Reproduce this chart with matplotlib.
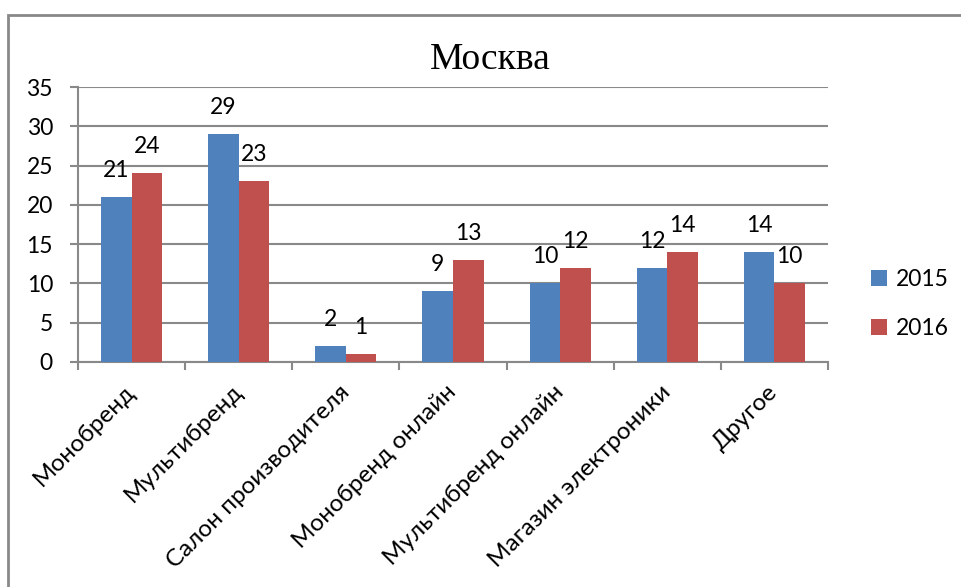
import matplotlib.pyplot as plt
import numpy as np
from matplotlib.patches import Rectangle

categories = ['Монобренд', 'Мультибренд', 'Салон производителя', 'Монобренд онлайн',
              'Мультибренд онлайн', 'Магазин электроники', 'Другое']
years = ['2015', '2016']
v2015 = [21, 29, 2, 9, 10, 12, 14]
v2016 = [24, 23, 1, 13, 12, 14, 10]
yticks = [0, 5, 10, 15, 20, 25, 30, 35]

blue = '#4F81BD'
red = '#C0504D'
grey = '#898989'

plt.rcParams['font.family'] = ['Lato', 'Open Sans', 'DejaVu Sans']

fig = plt.figure(figsize=(9.61, 5.87), dpi=100)
ax = fig.add_axes([78/961, 1-362/587, (828-78)/961, (362-87)/587])

# chart frame (runs off the right and bottom edges like the screenshot)
fig.patches.append(Rectangle((8/961, -0.1), 1.2, 1-15/587+0.1, transform=fig.transFigure,
                             fill=False, edgecolor=grey, linewidth=2))

x = np.arange(len(categories))
w = 0.286
b1 = ax.bar(x - w/2, v2015, w, color=blue, label=years[0], zorder=3)
b2 = ax.bar(x + w/2, v2016, w, color=red, label=years[1], zorder=3)

for bars, vals in ((b1, v2015), (b2, v2016)):
    for r, v in zip(bars, vals):
        ax.annotate(str(v), (r.get_x() + r.get_width()/2, v), xytext=(0, 11.5),
                    textcoords='offset points', ha='center', va='bottom', fontsize=16.5)

ax.set_xlim(-0.5, len(categories) - 0.5)
ax.set_ylim(0, 35)
ax.set_yticks(yticks)
ax.set_yticklabels([str(t) for t in yticks], fontsize=16.5)
ax.yaxis.grid(True, color=grey, linewidth=1.5, zorder=0)
ax.tick_params(axis='y', length=6, width=1.5, color=grey, pad=12)

# category ticks on boundaries, labels at centres
ax.set_xticks(np.arange(len(categories) + 1) - 0.5)
ax.set_xticklabels([])
ax.tick_params(axis='x', length=6, width=1.5, color=grey)
for i, c in enumerate(categories):
    ax.annotate(c, (i, 0), xytext=(0, -19), textcoords='offset points',
                rotation=45, rotation_mode='anchor', ha='right', va='center', fontsize=17.5)

for s in ('top', 'right'):
    ax.spines[s].set_visible(False)
for s in ('left', 'bottom'):
    ax.spines[s].set_color(grey)
    ax.spines[s].set_linewidth(1.5)

fig.text(490/961, 1-60/587, 'Москва', family='Liberation Serif', fontsize=27,
         ha='center', va='center')

fig.legend(handles=[b1, b2], labels=years, loc='center left',
           bbox_to_anchor=(850/961, 1-304/587), frameon=False, fontsize=16.5,
           handlelength=0.7, handleheight=0.7, handletextpad=0.4, labelspacing=1.2)

fig.savefig('out.png', dpi=100)
